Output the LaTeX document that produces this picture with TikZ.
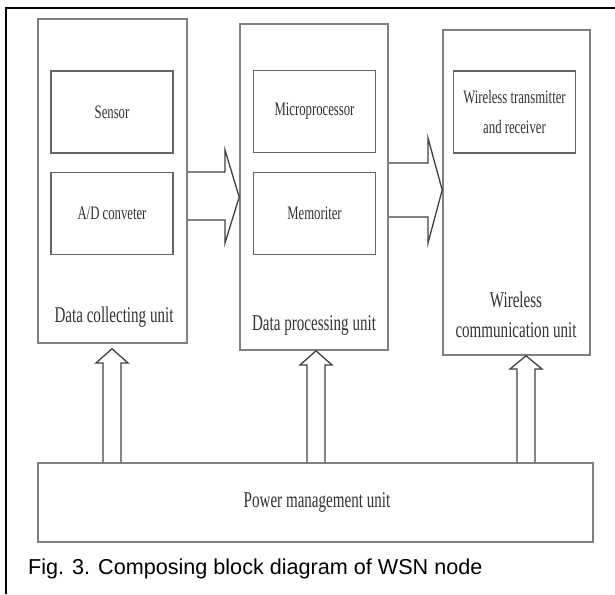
\documentclass[tikz,border=0pt]{standalone}
\usepackage{fontspec}
\setmainfont{Liberation Serif}
\newfontfamily\condserif[FakeStretch=0.67]{Liberation Serif}
\newfontfamily\capfont{Liberation Sans}
\usetikzlibrary{calc}
\tikzset{
  unitbox/.style={draw=black!50, line width=1.6pt, inner sep=0pt, fill=white},
  partbox/.style={draw=black!60, line width=1.5pt, inner sep=0pt, fill=white,
    minimum width=122pt, minimum height=82pt, align=center,
    font=\condserif\fontsize{19}{29}\selectfont, text=black!80},
  unitlabel/.style={inner sep=0pt, align=center,
    font=\condserif\fontsize{22.5}{30}\selectfont, text=black!80},
  blockarrow/.style={draw=black!75, line width=1.3pt, line join=miter},
  frameline/.style={draw=black, line width=2.4pt},
}
\begin{document}
\begin{tikzpicture}[x=1pt,y=-1pt]
\useasboundingbox (0,0) rectangle (615,594);

% open frame: top and left rules only
\draw[frameline] (6,594) -- (6,8) -- (615,8);

% the three functional units
\node[unitbox, minimum width=149pt, minimum height=324pt] (collect) at (112.5,181) {};
\node[unitbox, minimum width=148pt, minimum height=326pt] (process) at (314,187) {};
\node[unitbox, minimum width=147pt, minimum height=325pt] (comm) at (516.5,192.5) {};

% parts inside the units
\node[partbox] (sensor) at (112,112) {Sensor};
\node[partbox] (adc) at (112,213.5) {A/D conveter};
\node[partbox] (cpu) at (314.5,111.5) {Microprocessor};
\node[partbox] (mem) at (314.5,213.5) {Memoriter};
\node[partbox] (radio) at (514.5,112) {Wireless transmitter\\and receiver};

% unit titles
\node[unitlabel] (collectlbl) at (114,317) {Data collecting unit};
\node[unitlabel] (processlbl) at (314,325) {Data processing unit};
\node[unitlabel] (commlbl) at (516,315) {Wireless\\communication unit};

% power supply block
\node[unitbox, minimum width=555pt, minimum height=79pt] (power) at (315.5,502.5) {};
\node[unitlabel] (powerlbl) at (317,502) {Power management unit};

% data flow: collecting -> processing
\draw[blockarrow] (collect.east |- 0,172) -- (225,172) -- (225,150)
  -- (process.west |- 0,197) -- (225,243) -- (225,220) -- (collect.east |- 0,220);

% data flow: processing -> communication
\draw[blockarrow] (process.east |- 0,163) -- (428,163) -- (428,138)
  -- (comm.west |- 0,190) -- (428,243) -- (428,217) -- (process.east |- 0,217);

% power feeds into each unit
\draw[blockarrow] (power.north -| 103,0) -- (103,363) -- (96,363)
  -- ($(collect.south -| 112,0)+(0,5)$) -- (128,363) -- (121,363) -- (power.north -| 121,0);
\draw[blockarrow] (power.north -| 307,0) -- (307,365) -- (300,365)
  -- (process.south -| 316,0) -- (332,365) -- (325,365) -- (power.north -| 325,0);
\draw[blockarrow] (power.north -| 517,0) -- (517,369) -- (510,369)
  -- (comm.south -| 526,0) -- (542,369) -- (535,369) -- (power.north -| 535,0);

% caption
\node[anchor=base west, inner sep=0pt, font=\capfont\fontsize{21.6}{26}\selectfont] (caption)
  at (28,574) {Fig. 3. Composing block diagram of WSN node};
\end{tikzpicture}
\end{document}
